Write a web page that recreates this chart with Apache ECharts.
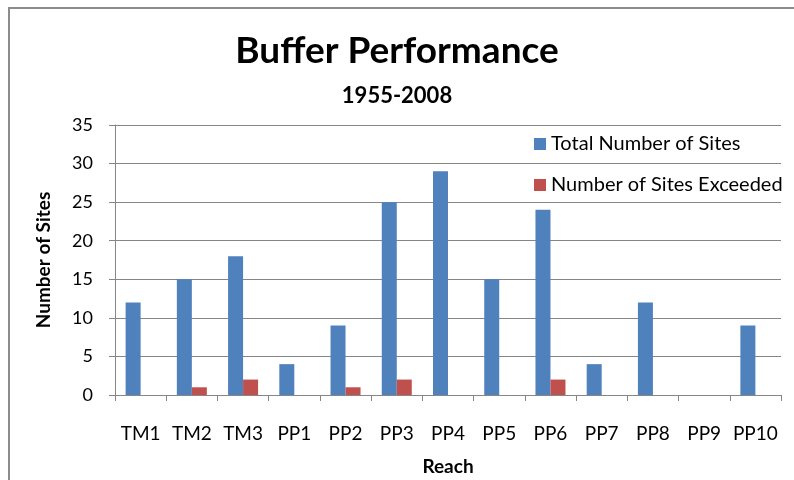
<!DOCTYPE html>
<html><head><meta charset="utf-8">
<script src="https://cdn.jsdelivr.net/npm/echarts@6/dist/echarts.min.js"></script>
<style>html,body{margin:0;padding:0;background:#fff}#c{width:794px;height:480px}</style>
</head><body><div id="c"></div>
<script>
const categories = ['TM1','TM2','TM3','PP1','PP2','PP3','PP4','PP5','PP6','PP7','PP8','PP9','PP10'];
const totalSites = [12,15,18,4,9,25,29,15,24,4,12,0,9];
const sitesExceeded = [0,1,2,0,1,2,0,0,2,0,0,0,0];
const yTicks = {min:0, max:35, interval:5};
const FONT = 'Lato';
const chart = echarts.init(document.getElementById('c'), null, {renderer:'canvas'});
chart.setOption({
  animation:false,
  textStyle:{fontFamily:FONT},
  graphic:[{type:'rect',shape:{x:9,y:8,width:800,height:480},style:{fill:'none',stroke:'#8c8c8c',lineWidth:2},silent:true}],
  title:{text:'Buffer Performance',subtext:'1955-2008',left:'center',top:28,itemGap:15,
    textStyle:{fontFamily:FONT,fontSize:37,fontWeight:'bold',color:'#000'},
    subtextStyle:{fontFamily:FONT,fontSize:22,fontWeight:'bold',color:'#000'}},
  legend:{orient:'vertical',left:529,top:129,itemWidth:12,itemHeight:12,itemGap:21,icon:'rect',
    textStyle:{fontFamily:FONT,fontSize:20,color:'#000'},
    data:['Total Number of Sites','Number of Sites Exceeded']},
  grid:{left:115,right:13,top:125,bottom:85,containLabel:false,outerBoundsMode:'none'},
  xAxis:{type:'category',data:categories,name:'Reach',nameLocation:'middle',nameGap:62,
    nameTextStyle:{fontFamily:FONT,fontSize:19,fontWeight:'bold',color:'#000'},
    axisLine:{lineStyle:{color:'#868686',width:1}},
    axisTick:{show:true,length:6,lineStyle:{color:'#868686'}},
    axisLabel:{margin:29,fontSize:19,color:'#000',fontFamily:FONT,interval:0}},
  yAxis:{type:'value',min:yTicks.min,max:yTicks.max,interval:yTicks.interval,name:'Number of Sites',nameLocation:'middle',nameGap:62,
    nameTextStyle:{fontFamily:FONT,fontSize:19,fontWeight:'bold',color:'#000'},
    axisLine:{show:true,lineStyle:{color:'#868686'}},
    axisTick:{show:true,length:6,lineStyle:{color:'#868686'}},
    axisLabel:{margin:22,fontSize:18,color:'#000',fontFamily:FONT},
    splitLine:{lineStyle:{color:'#868686',width:1}}},
  series:[
    {name:'Total Number of Sites',type:'bar',data:totalSites,barWidth:15,barGap:'0%',
      itemStyle:{color:'#4f81bd'}},
    {name:'Number of Sites Exceeded',type:'bar',data:sitesExceeded,barWidth:15,
      itemStyle:{color:'#c0504d'}}
  ]
});
</script></body></html>
